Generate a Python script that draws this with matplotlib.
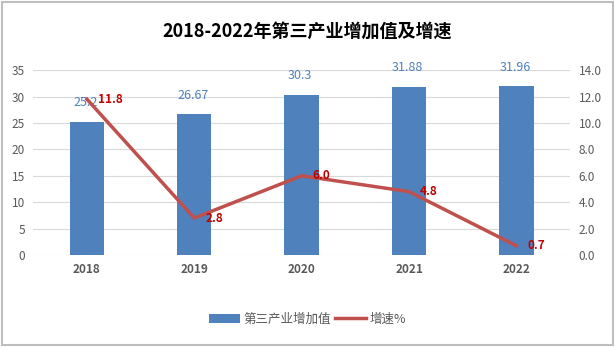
import numpy as np
import matplotlib.pyplot as plt
from matplotlib.patches import Rectangle

plt.rcParams['font.family'] = ['Noto Sans CJK SC', 'DejaVu Sans']

# data
years = ['2018', '2019', '2020', '2021', '2022']
value_added = [25.2, 26.67, 30.3, 31.88, 31.96]
growth = [11.8, 2.8, 6.0, 4.8, 0.7]
value_labels = ['25.2', '26.67', '30.3', '31.88', '31.96']

bar_color = '#4F81BD'
line_color = '#C0504D'

fig = plt.figure(figsize=(6.15, 3.47), dpi=100)
fig.patches.append(Rectangle((0.003, 0.006), 0.994, 0.988, transform=fig.transFigure,
                             fill=False, edgecolor='#BFBFBF', linewidth=1.5))

ax = fig.add_axes([0.054, 0.265, 0.873, 0.533])
x = np.arange(len(years))
ax.bar(x, value_added, width=0.32, color=bar_color, zorder=2, label='第三产业增加值')
ax.set_ylim(0, 35)
ax.set_yticks(range(0, 36, 5))
ax.set_xlim(-0.5, 4.5)
ax.set_xticks(x)
ax.set_xticklabels(years, fontweight='bold', color='#404040', fontsize=8.5)
ax.grid(axis='y', color='#D9D9D9', linewidth=0.8, zorder=0)
for s in ax.spines.values():
    s.set_visible(False)
ax.tick_params(length=0, labelsize=8.5, colors='#595959', pad=6)
for xi, v, t in zip(x, value_added, value_labels):
    ax.annotate(t, (xi, v), xytext=(-1, 9), textcoords='offset points',
                ha='center', va='bottom', color=bar_color, fontsize=9)

ax2 = ax.twinx()
ax2.plot(x, growth, color=line_color, linewidth=2.5, zorder=3, label='增速%')
ax2.set_ylim(0, 14)
ax2.set_yticks(np.arange(0, 15, 2))
ax2.set_yticklabels([f'{v:.1f}' for v in np.arange(0, 15, 2)])
for s in ax2.spines.values():
    s.set_visible(False)
ax2.tick_params(length=0, labelsize=8.5, colors='#595959', pad=6)
for xi, v in zip(x, growth):
    ax2.annotate(f'{v:.1f}', (xi, v), xytext=(8, 0), textcoords='offset points',
                 ha='left', va='center', color='#C00000', fontsize=8.5, fontweight='bold')

fig.text(0.5, 0.91, '2018-2022年第三产业增加值及增速', ha='center', va='center',
         fontsize=13, fontweight='bold')

h1, l1 = ax.get_legend_handles_labels()
h2, l2 = ax2.get_legend_handles_labels()
fig.legend(h1 + h2, l1 + l2, loc='center', bbox_to_anchor=(0.5, 0.08), ncol=2,
           frameon=False, fontsize=9, handlelength=2.5, columnspacing=0.3,
           handletextpad=0.3, labelcolor='#595959')

fig.savefig('out.png', dpi=100)
